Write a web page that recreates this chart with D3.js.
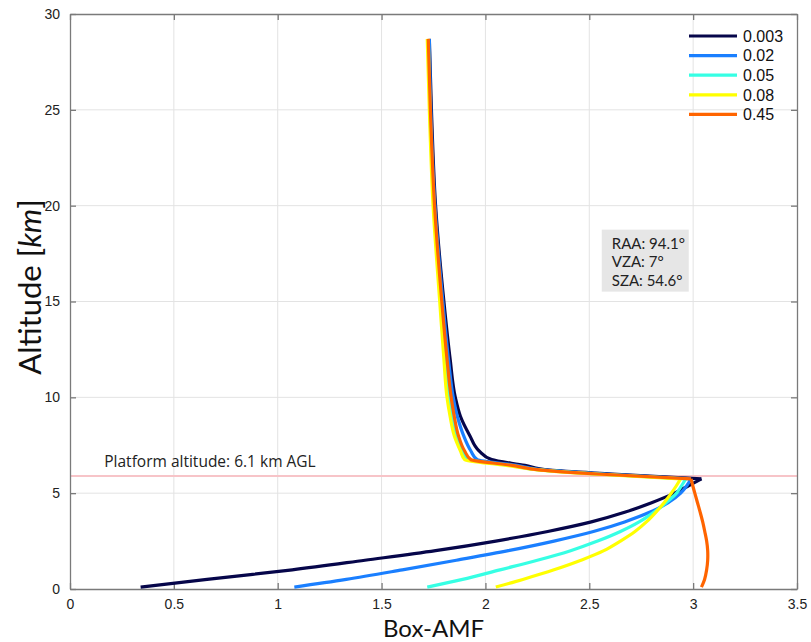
<!DOCTYPE html>
<html>
<head>
<meta charset="utf-8">
<script src="https://cdn.jsdelivr.net/npm/d3@7"></script>
<style>
  body { margin: 0; background: #fff; }
  .tick text { font-family: "Liberation Sans", Arial, sans-serif; font-size: 14px; fill: #222; }
</style>
</head>
<body>
<div id="chart"></div>
<script>
// altitude grid (km) shared by all profiles
const altitude = [0.1, 0.5, 1, 1.5, 2, 2.5, 3, 3.5, 4, 4.5, 5, 5.4, 5.75,
                  6.0, 6.2, 6.45, 6.75, 7.2, 8, 9, 10, 12, 15, 20, 25, 28.7];
const peakIndex = 12; // index of the turning point near platform altitude

const seriesNames = ['0.003', '0.02', '0.05', '0.08', '0.45'];
const seriesColors = ['#06064a', '#1a7fff', '#36ffe4', '#ffff00', '#ff6400'];

const amf003 = [0.34, 0.66, 1.07, 1.42, 1.76, 2.05, 2.30, 2.51, 2.67, 2.80, 2.91, 2.98, 3.04,
                2.61, 2.31, 2.19, 2.03, 1.97, 1.925, 1.88, 1.855, 1.83, 1.80, 1.76, 1.74, 1.73];
const amf02  = [1.08, 1.33, 1.60, 1.86, 2.11, 2.33, 2.52, 2.67, 2.79, 2.88, 2.94, 2.97, 2.99,
                2.58, 2.29, 2.15, 1.96, 1.93, 1.895, 1.865, 1.845, 1.822, 1.795, 1.757, 1.737, 1.73];
const amf05  = [1.72, 1.89, 2.07, 2.25, 2.41, 2.54, 2.65, 2.74, 2.81, 2.87, 2.92, 2.945, 2.965,
                2.54, 2.27, 2.12, 1.92, 1.89, 1.86, 1.84, 1.825, 1.81, 1.785, 1.752, 1.733, 1.725];
const amf08  = [2.05, 2.18, 2.33, 2.46, 2.57, 2.65, 2.72, 2.775, 2.82, 2.86, 2.895, 2.92, 2.94,
                2.52, 2.26, 2.1, 1.90, 1.88, 1.85, 1.83, 1.815, 1.80, 1.78, 1.748, 1.73, 1.72];
const amf45  = [3.04, 3.055, 3.065, 3.07, 3.07, 3.065, 3.056, 3.046, 3.034, 3.021, 3.008, 2.998, 2.99,
                2.54, 2.27, 2.13, 1.93, 1.9, 1.87, 1.85, 1.835, 1.815, 1.79, 1.755, 1.735, 1.725];
const seriesValues = [amf003, amf02, amf05, amf08, amf45];

const xTicks = [0, 0.5, 1, 1.5, 2, 2.5, 3, 3.5];
const yTicks = [0, 5, 10, 15, 20, 25, 30];
const platformAltitude = 5.9;
const angleLabels = ['RAA: 94.1°', 'VZA: 7°', 'SZA: 54.6°'];

const W = 811, H = 642;
const margin = { top: 14, right: 14, bottom: 53, left: 70 };
const width = W - margin.left - margin.right;
const height = H - margin.top - margin.bottom;

const svg = d3.select('#chart').append('svg')
    .attr('width', W)
    .attr('height', H);

const g = svg.append('g')
    .attr('transform', `translate(${margin.left},${margin.top})`);

const x = d3.scaleLinear().domain([0, 3.5]).range([0, width]);
const y = d3.scaleLinear().domain([0, 30]).range([height, 0]);

// Grid
g.append('g').selectAll('line').data(xTicks.slice(1, -1)).join('line')
    .attr('x1', d => x(d)).attr('x2', d => x(d))
    .attr('y1', 0).attr('y2', height)
    .attr('stroke', '#e3e3e3').attr('stroke-width', 1);
g.append('g').selectAll('line').data(yTicks.slice(1, -1)).join('line')
    .attr('x1', 0).attr('x2', width)
    .attr('y1', d => y(d)).attr('y2', d => y(d))
    .attr('stroke', '#e3e3e3').attr('stroke-width', 1);

// Platform altitude line
g.append('line')
    .attr('x1', 0).attr('x2', width)
    .attr('y1', y(platformAltitude)).attr('y2', y(platformAltitude))
    .attr('stroke', '#f7c4c8').attr('stroke-width', 2);

g.append('text')
    .attr('x', x(0.165))
    .attr('y', y(platformAltitude) - 9)
    .style('font-family', '"Open Sans", Lato, sans-serif')
    .style('font-size', '15.5px')
    .attr('fill', '#222')
    .text('Platform altitude: 6.1 km AGL');

// Axes (box with inward ticks)
const axisColor = '#7a7a7a';
const xAxis = g.append('g').attr('transform', `translate(0,${height})`)
    .call(d3.axisBottom(x).tickValues(xTicks).tickSizeInner(-6).tickSizeOuter(0).tickPadding(10)
        .tickFormat(d => d));
const yAxis = g.append('g')
    .call(d3.axisLeft(y).tickValues(yTicks).tickSizeInner(-6).tickSizeOuter(0).tickPadding(10));
const xTop = g.append('g')
    .call(d3.axisTop(x).tickValues(xTicks).tickSizeInner(-6).tickSizeOuter(0).tickFormat(''));
const yRight = g.append('g').attr('transform', `translate(${width},0)`)
    .call(d3.axisRight(y).tickValues(yTicks).tickSizeInner(-6).tickSizeOuter(0).tickFormat(''));
[xAxis, yAxis, xTop, yRight].forEach(a => {
    a.selectAll('path, line').attr('stroke', axisColor).attr('stroke-width', 1.3);
});

// Profiles: smooth lower branch, sharper upper branch above the turning point
const lowerLine = d3.line()
    .x(d => x(d[0]))
    .y(d => y(d[1]))
    .curve(d3.curveCatmullRom.alpha(0.5));
const upperLine = d3.line()
    .x(d => x(d[0]))
    .y(d => y(d[1]))
    .curve(d3.curveMonotoneY);

seriesValues.forEach((vals, i) => {
    const pts = vals.map((v, j) => [v, altitude[j]]);
    const s = g.append('g')
        .attr('fill', 'none')
        .attr('stroke', seriesColors[i])
        .attr('stroke-width', 3.2)
        .attr('stroke-linejoin', 'round');
    s.append('path').attr('d', lowerLine(pts.slice(0, peakIndex + 1)));
    s.append('path').attr('d', upperLine(pts.slice(peakIndex)));
});

// Legend
const legend = g.append('g').attr('transform', `translate(${619},${22})`);
seriesNames.forEach((name, i) => {
    const row = legend.append('g').attr('transform', `translate(0,${i * 19.6})`);
    row.append('line')
        .attr('x1', 0).attr('x2', 48)
        .attr('stroke', seriesColors[i]).attr('stroke-width', 3.2);
    row.append('text')
        .attr('x', 54).attr('dy', '0.36em')
        .style('font-family', '"Liberation Sans", Arial, sans-serif')
        .style('font-size', '16px')
        .attr('fill', '#111')
        .text(name);
});

// Angle annotation box
const box = g.append('g').attr('transform', `translate(${x(2.56)},${y(18.75)})`);
box.append('rect')
    .attr('width', 87).attr('height', 62)
    .attr('fill', '#e6e6e6');
angleLabels.forEach((t, i) => {
    box.append('text')
        .attr('x', 10).attr('y', 19 + i * 18.5)
        .style('font-family', 'Lato, "Open Sans", sans-serif')
        .style('font-size', '15px')
        .attr('fill', '#222')
        .text(t);
});

// Axis labels
g.append('text')
    .attr('x', width / 2)
    .attr('y', height + 48)
    .style('text-anchor', 'middle')
    .style('font-family', 'Lato, "Open Sans", sans-serif')
    .style('font-size', '24px')
    .attr('fill', '#111')
    .text('Box-AMF');

const yLabel = g.append('text')
    .attr('transform', 'rotate(-90)')
    .attr('x', -(287 - margin.top))
    .attr('y', -29)
    .style('text-anchor', 'middle')
    .style('font-family', 'Lato, "Open Sans", sans-serif')
    .style('font-size', '31px')
    .attr('fill', '#111');
yLabel.append('tspan').text('Altitude [');
yLabel.append('tspan').style('font-style', 'italic').text('km');
yLabel.append('tspan').text(']');
</script>
</body>
</html>
